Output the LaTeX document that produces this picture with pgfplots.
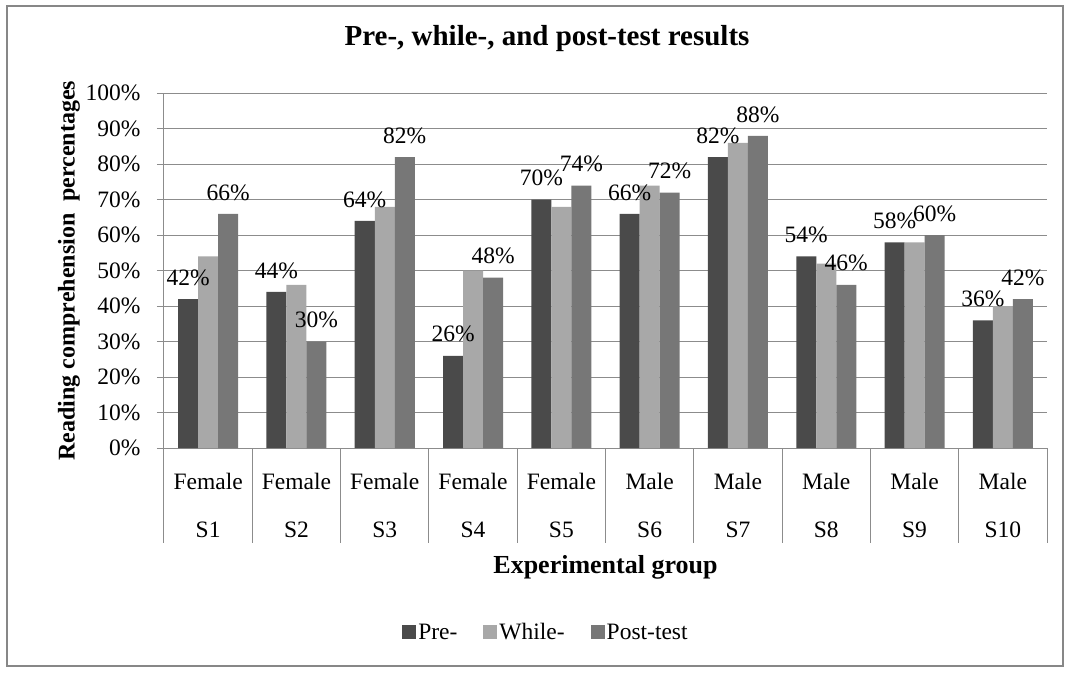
\documentclass[border=0pt]{standalone}
\usepackage{pgfplots}
\pgfplotsset{compat=1.18}
\usepackage{pgfplotstable}
\usepackage{fontspec}
\setmainfont{Liberation Serif}
\definecolor{gridgray}{HTML}{8C8C8C}
\definecolor{framegray}{HTML}{878787}
\definecolor{preC}{HTML}{4A4A4A}
\definecolor{whiC}{HTML}{A8A8A8}
\definecolor{posC}{HTML}{777777}
\newcommand\fs{\fontsize{23.5}{28}\selectfont}
\newcommand\fsx{\fontsize{23.5}{48}\selectfont}
\pgfplotstableread{
x pre while post
0 42 54 66
1 44 46 30
2 64 68 82
3 26 50 48
4 70 68 74
5 66 74 72
6 82 86 88
7 54 52 46
8 58 58 60
9 36 40 42
}\data
\pgfplotsset{
  legimg/.style={legend image code/.code={\path[##1, draw=none] (0pt,-7pt) rectangle (14pt,7pt);}},
}
\begin{document}
\begin{tikzpicture}
\path[use as bounding box] (-164pt,-224pt) rectangle (906pt,448pt);
\draw[framegray, line width=2pt] (-157pt,-218pt) rectangle (899pt,442pt);
\node[font=\fontsize{29}{34}\selectfont\bfseries] at (383pt,409pt) {Pre-, while-, and post-test results};
\begin{axis}[
  at={(0pt,0pt)}, anchor=south west, scale only axis,
  width=883pt, height=354.7pt,
  clip=false,
  ybar=0pt, bar width=20pt,
  xmin=-0.5, xmax=9.5, ymin=0, ymax=100,
  axis lines*=left,
  axis line style={gridgray, line width=1pt, -},
  ymajorgrids, grid style={gridgray, line width=1pt},
  ytick={0,10,...,100},
  yticklabels={0\%,10\%,20\%,30\%,40\%,50\%,60\%,70\%,80\%,90\%,100\%},
  y tick style={gridgray, line width=1pt},
  tick align=outside, major tick length=7pt,
  yticklabel style={font=\fs, black, xshift=-13pt},
  xtick={0,...,9},
  x tick style={draw=none},
  xticklabels={{Female\\S1},{Female\\S2},{Female\\S3},{Female\\S4},{Female\\S5},{Male\\S6},{Male\\S7},{Male\\S8},{Male\\S9},{Male\\S10}},
  xticklabel style={font=\fsx, align=center, anchor=north, black, yshift=-15pt},
  xlabel={Experimental group},
  xlabel style={at={(axis description cs:0.5,0)}, yshift=-119pt, anchor=center, font=\fontsize{26}{30}\selectfont\bfseries},
  ylabel={Reading comprehension\ \ percentages},
  every axis y label/.style={at={(axis description cs:0,0.5)}, xshift=-95pt, rotate=90, anchor=center, font=\fontsize{24}{28}\selectfont\bfseries},
  every node near coord/.append style={font=\fs, text=black, anchor=south, yshift=10pt},
  legend columns=3,
  legend style={draw=none, fill=none, at={(0.4326,-0.519)}, anchor=center, font=\fs,
    /tikz/every even column/.append style={column sep=24pt}},
]
\addplot[legimg, draw=none, fill=preC,
  nodes near coords={\pgfmathprintnumber[assume math mode=true]{\pgfplotspointmeta}\%}]
  table[x=x, y=pre]{\data};
\addplot[legimg, draw=none, fill=whiC]
  table[x=x, y=while]{\data};
\addplot[legimg, draw=none, fill=posC,
  nodes near coords={\pgfmathprintnumber[assume math mode=true]{\pgfplotspointmeta}\%}]
  table[x=x, y=post]{\data};
\legend{Pre-, While-, Post-test}
\pgfplotsinvokeforeach{-0.5,0.5,1.5,2.5,3.5,4.5,5.5,6.5,7.5,8.5,9.5}{
  \draw[gridgray, line width=1pt] (axis cs:#1,0) -- ++(0pt,-95pt);
}
\end{axis}
\end{tikzpicture}
\end{document}
